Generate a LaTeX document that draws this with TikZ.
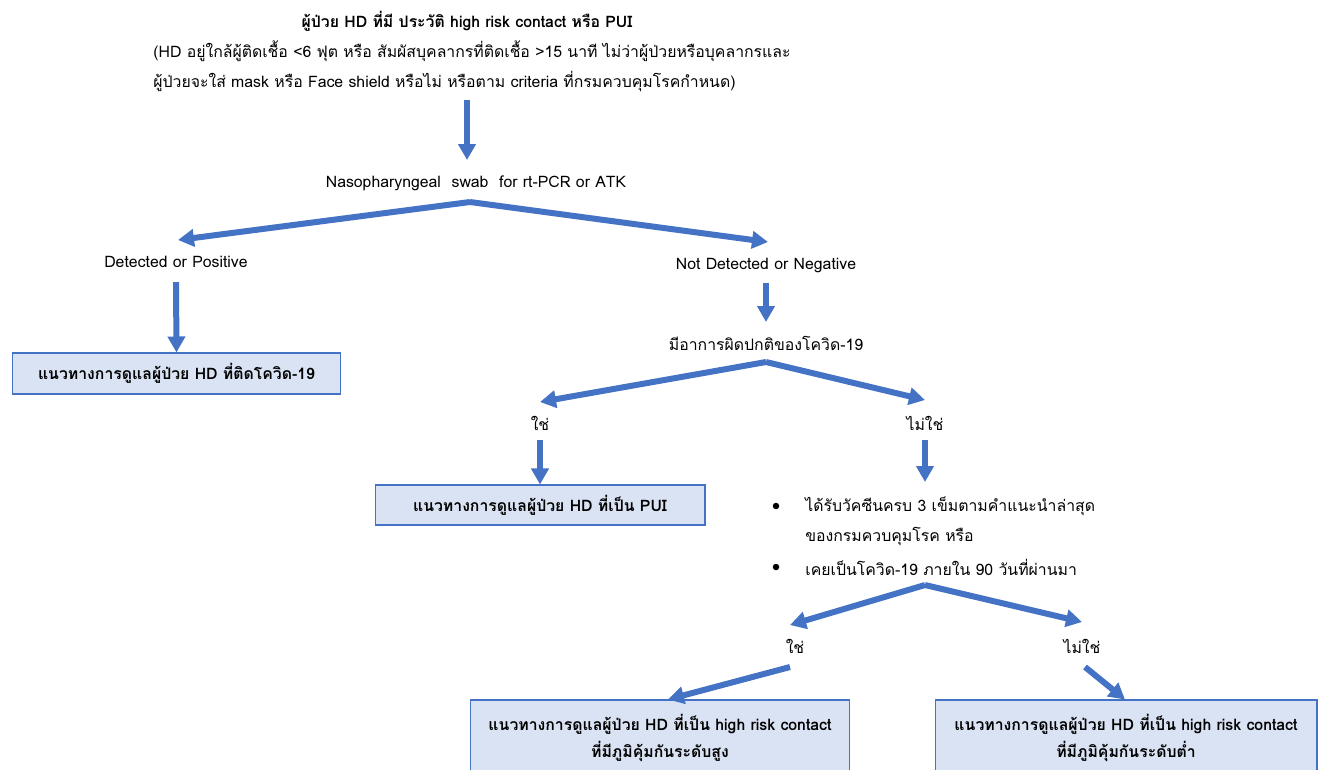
\documentclass[tikz,border=0pt]{standalone}
\usepackage{fontspec}
\setmainfont[Script=Thai]{Loma}
\usepackage{xcolor}
\usetikzlibrary{arrows.meta}
\definecolor{flowblue}{HTML}{4472C4}
\definecolor{boxfill}{HTML}{DAE3F3}

\begin{document}
\begin{tikzpicture}[x=0.02cm,y=-0.02cm,
  font=\fontsize{9}{17}\selectfont,
  flow/.style={draw=flowblue,line width=0.12cm,-{Triangle[length=0.32cm,width=0.34cm]}},
  resbox/.style={draw=flowblue,fill=boxfill,line width=0.6pt,inner sep=0pt,align=center,
    font=\fontsize{9}{15}\selectfont\bfseries},
  dot/.style={circle,fill=black,inner sep=0pt,minimum size=0.13cm}]
  \useasboundingbox (0,0) rectangle (1322,769);

  % header
  \node[font=\fontsize{9}{17}\selectfont\bfseries] (title) at (467,21)
    {ผู้ป่วย HD ที่มี ประวัติ high risk contact หรือ PUI};
  \node[anchor=west,align=left,inner sep=0pt] (cond) at (153,66)
    {(HD อยู่ใกล้ผู้ติดเชื้อ <6 ฟุต หรือ สัมผัสบุคลากรที่ติดเชื้อ >15 นาที ไม่ว่าผู้ป่วยหรือบุคลากรและ\\
     ผู้ป่วยจะใส่ mask หรือ Face shield หรือไม่ หรือตาม criteria ที่กรมควบคุมโรคกำหนด)};
  \node (naso) at (476,183) {Nasopharyngeal\ \ swab\ \ for rt-PCR or ATK};

  % first split
  \node (pos) at (176,262) {Detected or Positive};
  \node (neg) at (766,265) {Not Detected or Negative};
  \node[resbox,minimum width=6.58cm,minimum height=0.82cm] (covid) at (176.5,373.5)
    {แนวทางการดูแลผู้ป่วย HD ที่ติดโควิด-19};
  \node (sym) at (766,343) {มีอาการผิดปกติของโควิด-19};

  % second split
  \node (symyes) at (540,423) {ใช่};
  \node (symno) at (925,423) {ไม่ใช่};
  \node[resbox,minimum width=6.6cm,minimum height=0.8cm] (pui) at (540,505)
    {แนวทางการดูแลผู้ป่วย HD ที่เป็น PUI};
  \node[dot] (b1) at (776,506) {};
  \node[dot] (b2) at (776,567) {};
  \node[anchor=west,align=left,inner sep=0pt] (vac) at (805,521.5)
    {ได้รับวัคซีนครบ 3 เข็มตามคำแนะนำล่าสุด\\ของกรมควบคุมโรค หรือ};
  \node[anchor=west,inner sep=0pt] (prev) at (805,567) {เคยเป็นโควิด-19 ภายใน 90 วันที่ผ่านมา};

  % third split
  \node (vacyes) at (795,646) {ใช่};
  \node (vacno) at (1082,646) {ไม่ใช่};
  \node[resbox,minimum width=7.6cm,minimum height=1.52cm] (high) at (660,738)
    {แนวทางการดูแลผู้ป่วย HD ที่เป็น high risk contact\\ที่มีภูมิคุ้มกันระดับสูง};
  \node[resbox,minimum width=7.64cm,minimum height=1.52cm] (low) at (1126,738)
    {แนวทางการดูแลผู้ป่วย HD ที่เป็น high risk contact\\ที่มีภูมิคุ้มกันระดับต่ำ};

  % arrow ends
  \coordinate (condOut) at (467,100);
  \coordinate (nasoIn) at (467,160);
  \coordinate (nasoFork) at (470,202);
  \coordinate (posIn) at (178,240);
  \coordinate (negIn) at (768,242);
  \coordinate (posOut) at (176,282);
  \coordinate (negOut) at (766,283);
  \coordinate (symIn) at (766,322);
  \coordinate (symFork) at (766,362);
  \coordinate (symyesIn) at (540,402);
  \coordinate (symnoIn) at (925,400);
  \coordinate (symyesOut) at (540,440);
  \coordinate (symnoOut) at (925,440);
  \coordinate (vacIn) at (925,482);
  \coordinate (vacFork) at (925,585);
  \coordinate (vacyesIn) at (790,625);
  \coordinate (vacnoIn) at (1082,622);
  \coordinate (vacyesOut) at (790,667);
  \coordinate (vacnoOut) at (1085,667);

  \draw[flow] (condOut) -- (nasoIn);
  \draw[flow] (nasoFork) -- (posIn);
  \draw[flow] (nasoFork) -- (negIn);
  \draw[flow] (posOut) -- (covid.north);
  \draw[flow] (negOut) -- (symIn);
  \draw[flow] (symFork) -- (symyesIn);
  \draw[flow] (symFork) -- (symnoIn);
  \draw[flow] (symyesOut) -- (pui.north);
  \draw[flow] (symnoOut) -- (vacIn);
  \draw[flow] (vacFork) -- (vacyesIn);
  \draw[flow] (vacFork) -- (vacnoIn);
  \draw[flow] (vacyesOut) -- (high.north -| 668,0);
  \draw[flow] (vacnoOut) -- (low.north -| 1125,0);
\end{tikzpicture}
\end{document}
